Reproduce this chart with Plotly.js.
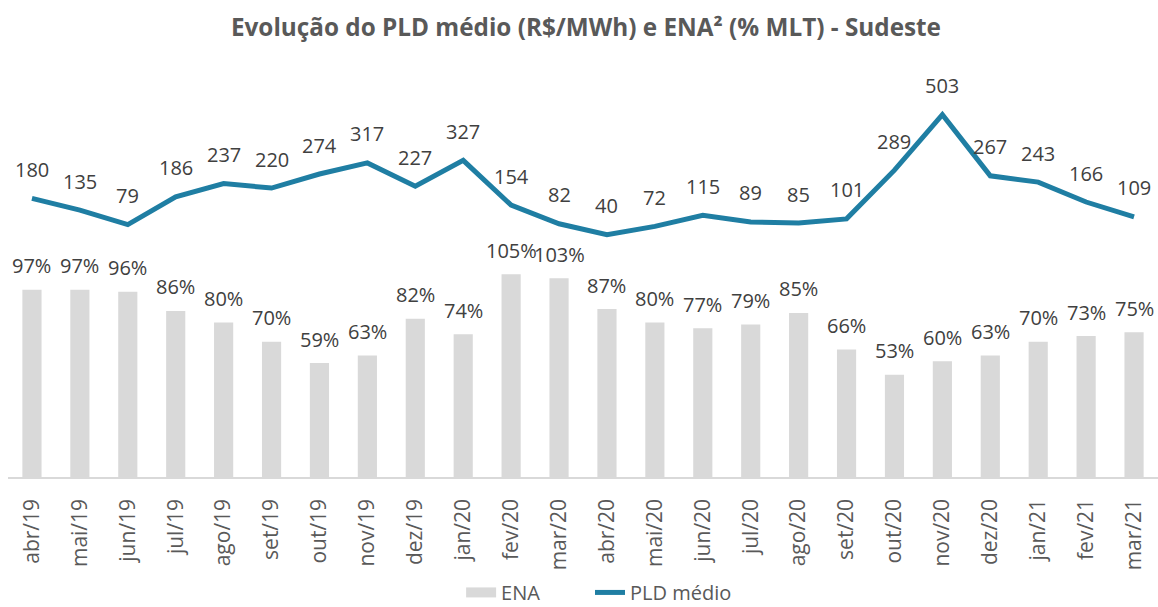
<!DOCTYPE html>
<html>
<head>
<meta charset="utf-8">
<script src="https://cdn.plot.ly/plotly-3.0.1.min.js"></script>
<style>html,body{margin:0;padding:0;background:#fff;}#chart{width:1158px;height:607px;}</style>
</head>
<body>
<div id="chart"></div>
<script>
const categories = ["abr/19","mai/19","jun/19","jul/19","ago/19","set/19","out/19","nov/19","dez/19","jan/20","fev/20","mar/20","abr/20","mai/20","jun/20","jul/20","ago/20","set/20","out/20","nov/20","dez/20","jan/21","fev/21","mar/21"];
const enaValues = [97,97,96,86,80,70,59,63,82,74,105,103,87,80,77,79,85,66,53,60,63,70,73,75];
const pldValues = [180,135,79,186,237,220,274,317,227,327,154,82,40,72,115,89,85,101,289,503,267,243,166,109];

const FONT = "'Open Sans', 'Noto Sans', sans-serif";
const labelColor = "#404040";
const barColor = "#D9D9D9";
const lineColor = "#1F7EA3";

const barTrace = {
  type: "bar", name: "ENA", x: categories, y: enaValues,
  marker: {color: barColor}, width: 0.4, yaxis: "y", hoverinfo: "skip", showlegend: false
};
const enaLegend = {
  type: "scatter", mode: "lines", name: "ENA", x: [categories[0]], y: [null],
  line: {color: barColor, width: 14}, yaxis: "y", hoverinfo: "skip", showlegend: true, legend: "legend"
};
const lineTrace = {
  type: "scatter", mode: "lines", name: "PLD médio", x: categories, y: pldValues,
  line: {color: lineColor, width: 5}, yaxis: "y2", hoverinfo: "skip", legend: "legend2"
};

const annotations = [];
categories.forEach((c, i) => {
  annotations.push({x: c, y: enaValues[i], xref: "x", yref: "y", text: enaValues[i] + "%",
    showarrow: false, yanchor: "middle", yshift: 24, font: {family: FONT, size: 20, color: labelColor}});
  annotations.push({x: c, y: pldValues[i], xref: "x", yref: "y2", text: String(pldValues[i]),
    showarrow: false, yanchor: "middle", yshift: 29, font: {family: FONT, size: 20, color: labelColor}});
});

const legendBase = {orientation: "h", xref: "container", yref: "container", xanchor: "left",
  y: 0.024, yanchor: "middle", font: {family: FONT, size: 20, color: "#595959"}};

const layout = {
  width: 1158, height: 607,
  margin: {l: 8, r: 0, t: 60, b: 130},
  paper_bgcolor: "#fff", plot_bgcolor: "#fff",
  font: {family: FONT, color: "#595959"},
  title: {text: "<b>Evolução do PLD médio (R$/MWh) e ENA² (% MLT) - Sudeste</b>",
    x: 0.506, xanchor: "center", y: 0.955, yanchor: "middle",
    font: {family: FONT, size: 24.3, color: "#595959"}},
  showlegend: true,
  legend: Object.assign({}, legendBase, {x: 0.3982}),
  legend2: Object.assign({}, legendBase, {x: 0.5095}),
  xaxis: {type: "category", tickangle: -90, showgrid: false, zeroline: false, automargin: false,
    showline: true, linecolor: "#D9D9D9", linewidth: 1.5, ticks: "",
    ticklabelstandoff: 12,
    tickfont: {family: FONT, size: 21, color: "#595959"}},
  yaxis: {range: [0, 216], visible: false, showgrid: false, zeroline: false, automargin: false},
  yaxis2: {range: [-895, 714], overlaying: "y", visible: false, showgrid: false, zeroline: false, automargin: false},
  annotations: annotations,
  bargap: 0.6
};

Plotly.newPlot("chart", [barTrace, enaLegend, lineTrace], layout, {displayModeBar: false, staticPlot: true});
</script>
</body>
</html>
